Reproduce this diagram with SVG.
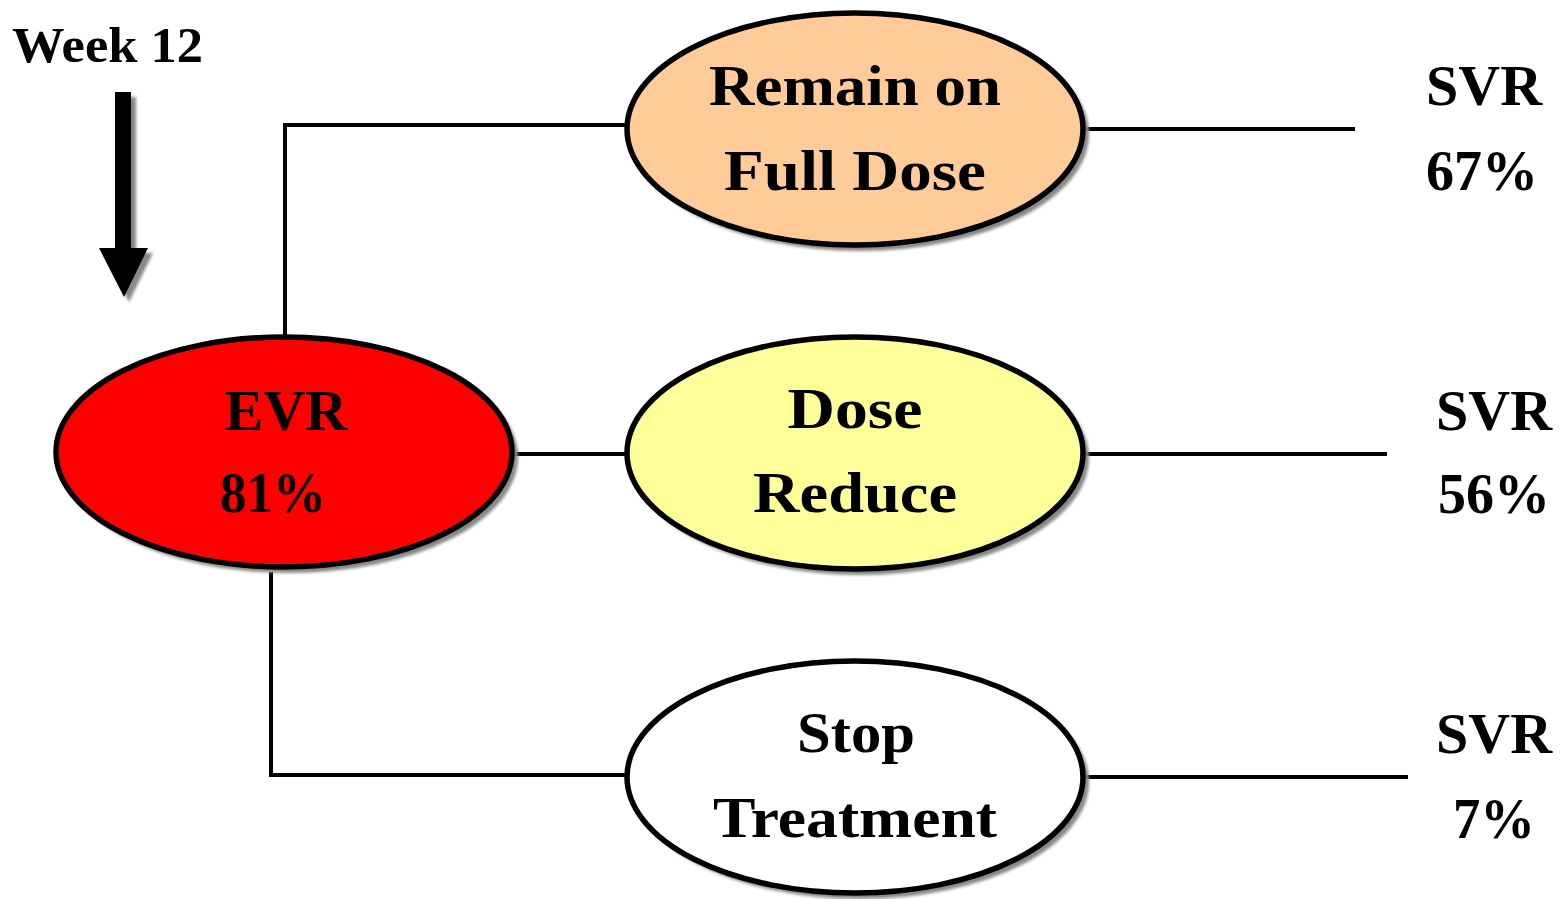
<svg xmlns="http://www.w3.org/2000/svg" width="1560" height="899" viewBox="0 0 1560 899">
<defs>
<filter id="sh" x="-10%" y="-10%" width="120%" height="120%">
<feGaussianBlur stdDeviation="1.5"/>
</filter>
</defs>
<style>
.t{font-family:"Liberation Serif","Times New Roman",serif;font-weight:bold;fill:#000;text-anchor:middle;font-size:58px}
.node{stroke:#000;stroke-width:5.5}
.shadow{fill:#888;filter:url(#sh)}
.conn{stroke:#000;stroke-width:4;fill:none}
</style>
<rect width="1560" height="899" fill="#fff"/>
<g id="week12">
<text x="12" y="62" textLength="191" lengthAdjust="spacingAndGlyphs" style="font-family:'Liberation Serif','Times New Roman',serif;font-weight:bold;font-size:50px">Week 12</text>
<polygon points="120,97 136,97 136,253 153,253 129,302 104,253 120,253" fill="#888" filter="url(#sh)"/>
<polygon points="115,92 131,92 131,248 148,248 124,297 99,248 115,248" fill="#000"/>
</g>
<g id="connectors">
<polyline class="conn" points="285,336 285,125 628,125"/>
<line class="conn" x1="513" y1="454" x2="628" y2="454"/>
<polyline class="conn" points="271,572 271,775 628,775"/>
<line class="conn" x1="1085" y1="129" x2="1355" y2="129"/>
<line class="conn" x1="1085" y1="454" x2="1387" y2="454"/>
<line class="conn" x1="1085" y1="777" x2="1408" y2="777"/>
</g>
<g id="evr">
<ellipse class="shadow" cx="289" cy="457" rx="229" ry="116"/>
<ellipse class="node" cx="284" cy="452" rx="228" ry="115" fill="#FF0000"/>
<text class="t" x="286" y="430">EVR</text>
<text class="t" x="273" y="512" textLength="106" lengthAdjust="spacingAndGlyphs">81%</text>
</g>
<g id="remain">
<ellipse class="shadow" cx="860" cy="134" rx="229" ry="117"/>
<ellipse class="node" cx="855" cy="129" rx="228" ry="116" fill="#FFCC99"/>
<text class="t" x="855" y="105" textLength="292" lengthAdjust="spacingAndGlyphs">Remain on</text>
<text class="t" x="855" y="190" textLength="262" lengthAdjust="spacingAndGlyphs">Full Dose</text>
</g>
<g id="dose">
<ellipse class="shadow" cx="860" cy="458" rx="229" ry="117"/>
<ellipse class="node" cx="855" cy="453" rx="228" ry="116" fill="#FFFF99"/>
<text class="t" x="855" y="428" textLength="135" lengthAdjust="spacingAndGlyphs">Dose</text>
<text class="t" x="855" y="512" textLength="204" lengthAdjust="spacingAndGlyphs">Reduce</text>
</g>
<g id="stop">
<ellipse class="shadow" cx="860" cy="782" rx="229" ry="117"/>
<ellipse class="node" cx="855" cy="777" rx="228" ry="116" fill="#FFFFFF"/>
<text class="t" x="856" y="752" textLength="118" lengthAdjust="spacingAndGlyphs">Stop</text>
<text class="t" x="855" y="837" textLength="284" lengthAdjust="spacingAndGlyphs">Treatment</text>
</g>
<g id="svr1">
<text class="t" x="1484" y="105">SVR</text>
<text class="t" x="1482" y="190" textLength="112" lengthAdjust="spacingAndGlyphs">67%</text>
</g>
<g id="svr2">
<text class="t" x="1494" y="430">SVR</text>
<text class="t" x="1494" y="513" textLength="112" lengthAdjust="spacingAndGlyphs">56%</text>
</g>
<g id="svr3">
<text class="t" x="1494" y="753">SVR</text>
<text class="t" x="1494" y="838" textLength="82" lengthAdjust="spacingAndGlyphs">7%</text>
</g>
</svg>
